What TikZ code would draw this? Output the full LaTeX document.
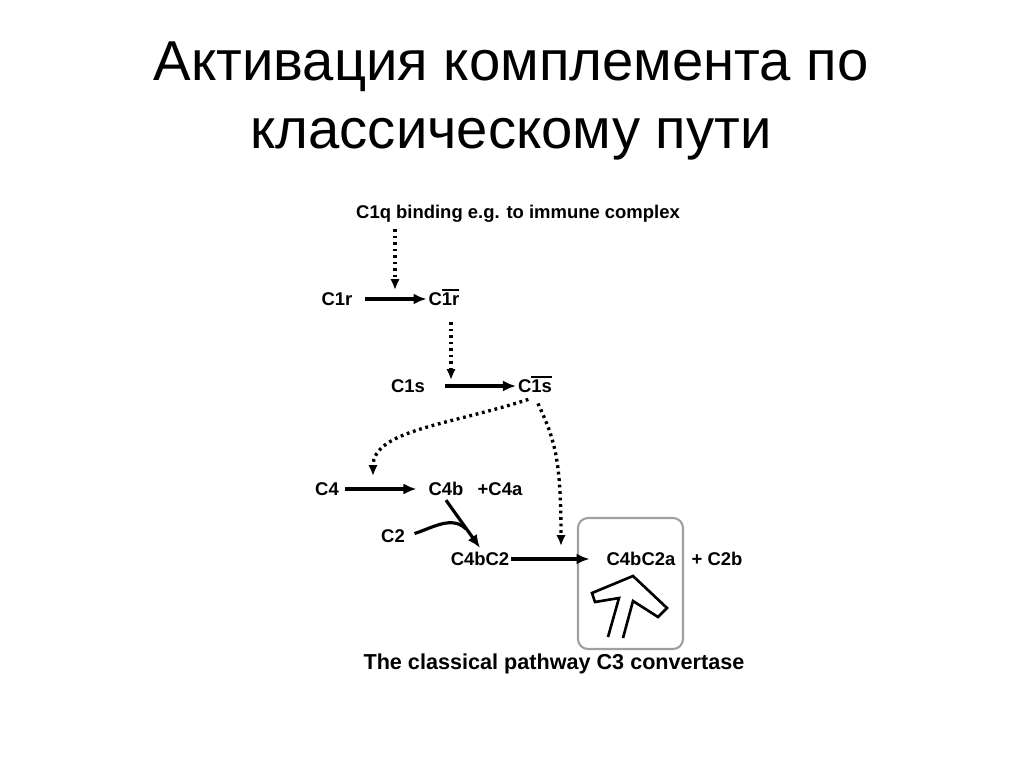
\documentclass[tikz,border=0pt]{standalone}
\usepackage{fontspec}
\setmainfont{Liberation Sans}
\usetikzlibrary{positioning,arrows,arrows.meta,calc}
\newcommand{\actbar}[1]{\leavevmode\vbox{\hrule height 1.4pt\kern 1.1pt\hbox{#1}}}
\tikzset{
    lbl/.style={inner sep=1pt, text height=1.7ex, text depth=0.25ex,
        font=\fontsize{10.5pt}{12pt}\bfseries\selectfont},
    react/.style={-{Latex[length=2.6mm,width=2.2mm]}, line width=1.8pt},
    dotarrow/.style={-{Latex[length=2.2mm,width=1.9mm]}, line width=1.9pt, dash pattern=on 1.6pt off 2.1pt},
    convbox/.style={draw=gray!75, line width=1.2pt, rounded corners=2mm,
        minimum width=21mm, minimum height=26.2mm, inner sep=0pt},
    title/.style={font=\fontsize{32pt}{38pt}\selectfont, anchor=base}
}

\begin{document}
\begin{tikzpicture}[x=0.2mm, y=-0.2mm]
		\useasboundingbox (0,0) rectangle (1024,767);

		\node[title] (T1) at (511,80) {Активация комплемента по};
		\node[title] (T2) at (511,148) {классическому пути};

		\node[lbl] (C1q) at (518,212) {C1q binding e.g. to immune complex};
		\node[lbl] (C1r) at (337,299) {C1r};
		\node[lbl] (C1ra) at (444,299) {C\actbar{1r}};
		\node[lbl] (C1s) at (408,386) {C1s};
		\node[lbl] (C1sa) at (535,386) {C\actbar{1s}};
		\node[lbl] (C4) at (327,489) {C4};
		\node[lbl] (C4b) at (446,489) {C4b};
		\node[lbl] (C4a) at (500,489) {+C4a};
		\node[lbl] (C2) at (393,536) {C2};
		\node[lbl] (C4bC2) at (480,559) {C4bC2};
		\node[convbox] (box) at (630.5,583.5) {};
		\node[lbl] (C4bC2a) at (641,559) {C4bC2a};
		\node[lbl] (C2b) at (717,559) {+ C2b};
		\node[lbl, font=\fontsize{12.3pt}{14pt}\bfseries\selectfont] (conv) at (554,663) {The classical pathway C3 convertase};

		\coordinate (m1) at (395,290);
		\coordinate (m2) at (451,380);
		\coordinate (m3) at (373,476);
		\coordinate (m4) at (561,546);
		\coordinate (j) at (466,529);

		\draw [react, shorten <=2.2mm] (C1r) -- (C1ra);
		\draw [react, shorten <=3.6mm] (C1s) -- (C1sa);
		\draw [react, shorten <=0.8mm, shorten >=2mm] (C4) -- (C4b);
		\draw [react] (C4b.south) -- (C4bC2.north);
		\draw [line width=1.8pt, shorten <=1.6mm] (C2.east) .. controls (432,528) and (452,515) .. (j);
		\draw [react, shorten >=3mm] (C4bC2) -- (C4bC2a);

		\draw [dotarrow, shorten <=1.2mm] (C1q.south -| m1) -- (m1);
		\draw [dotarrow, shorten <=2.4mm] (C1ra.south -| m2) -- (m2);
		\draw [dotarrow, shorten <=1.4mm] (C1sa.south) .. controls (450,425) and (373,430) .. (m3);
		\draw [dotarrow, shorten <=1.4mm] (C1sa.south) .. controls (555,440) and (561,460) .. (m4);

		\draw [line width=1.5pt, line join=miter] (608,637) -- (619,598) -- (595,602) -- (592,593) -- (633,576)
			-- (667,608) -- (658,617) -- (633,601) -- (623,638);
	\end{tikzpicture}
\end{document}
